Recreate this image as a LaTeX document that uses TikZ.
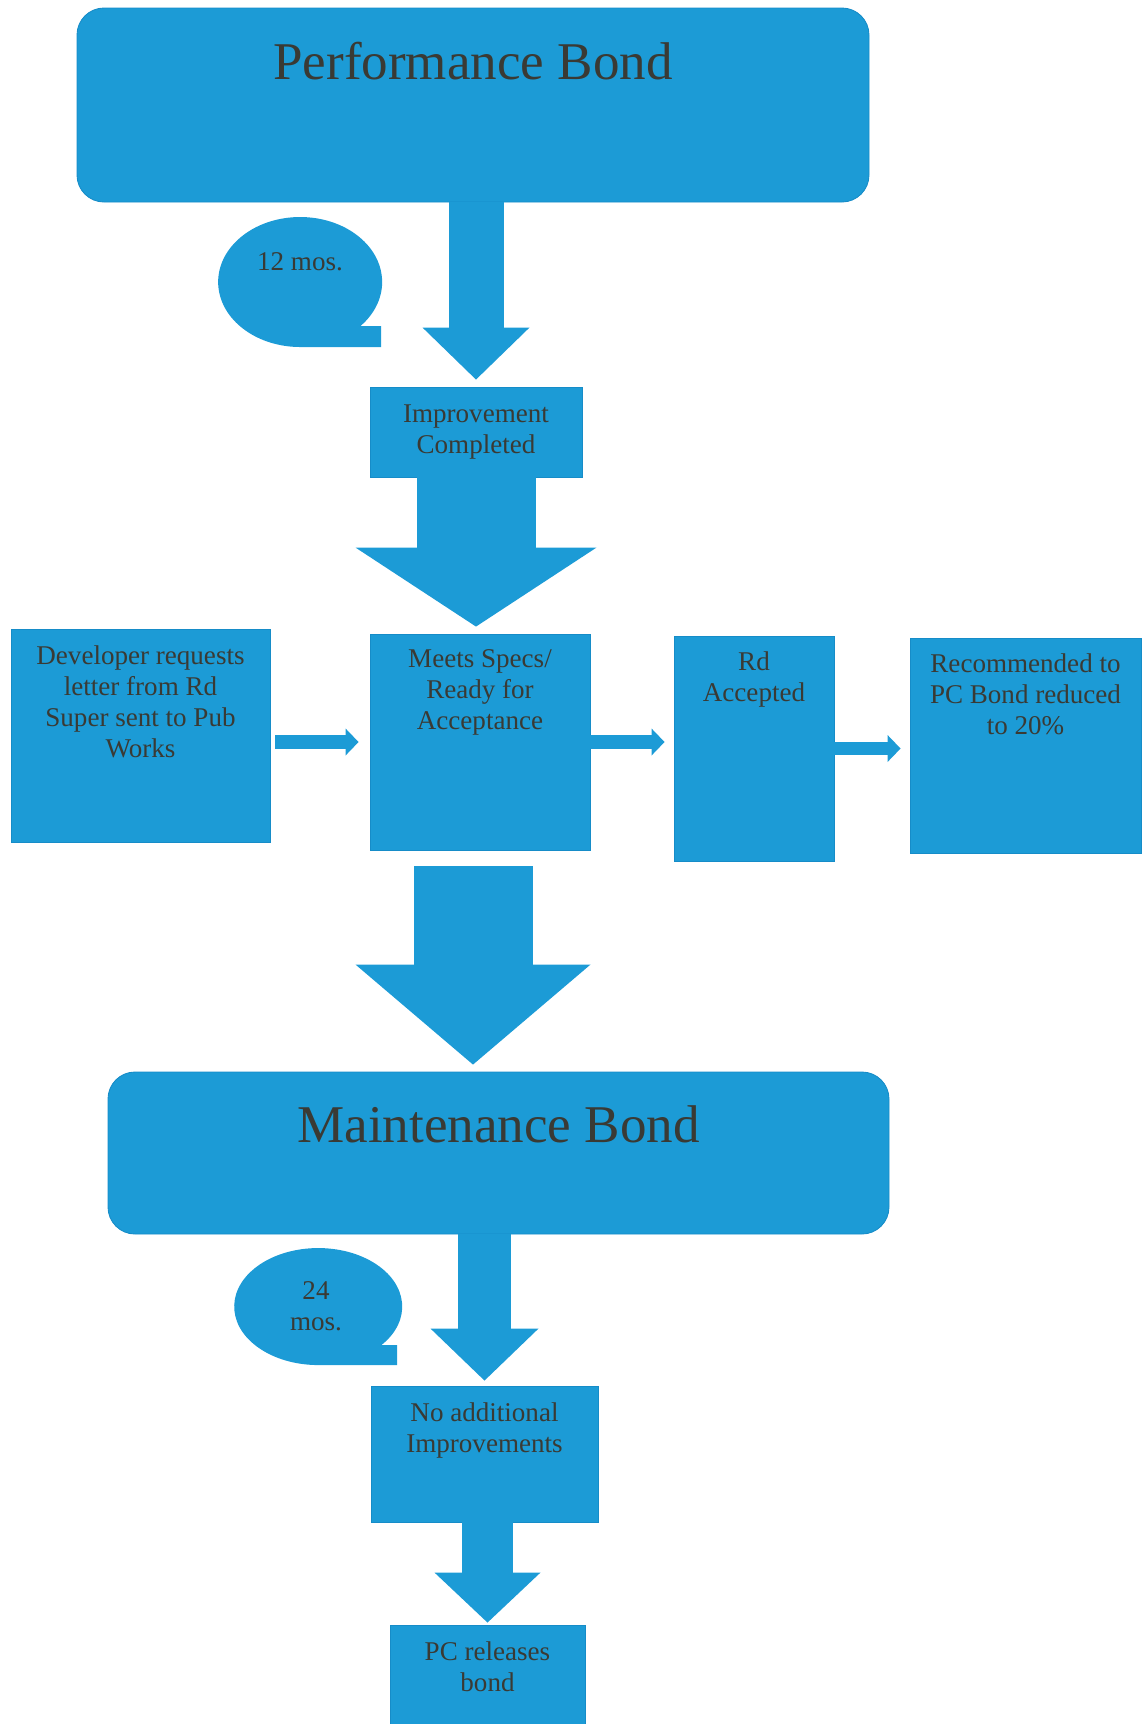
\documentclass[tikz,border=0pt]{standalone}
\usepackage{fontspec}
\setmainfont{Liberation Serif}
\usepackage{tikz}
\usetikzlibrary{arrows.meta,calc,positioning}
\definecolor{bondblue}{RGB}{28,155,214}
\definecolor{bondedge}{RGB}{22,140,200}
\definecolor{bondink}{RGB}{58,58,52}

\begin{document}
\begin{tikzpicture}[every node/.style={text=bondink},
                    stepbox/.style={fill=bondblue,draw=bondedge,line width=0.5pt,inner sep=0pt},
                    bondbox/.style={stepbox,rounded corners=0.54cm},
                    boxtext/.style={font=\fontsize{15.4pt}{17.6pt}\selectfont,align=center,inner sep=0pt},
                    titletext/.style={font=\fontsize{30.2pt}{34pt}\selectfont,inner sep=0pt},
                    blockarrow/.style n args={3}{draw=bondblue,line width=#1,
                        -{Triangle[width=#2,length=#3,line width=0pt]}},
                    sidearrow/.style={blockarrow={0.27cm}{0.54cm}{0.26cm}}]

  \useasboundingbox (0,0) rectangle (22.88,-34.48);
  \clip (0,0) rectangle (22.88,-34.48);

  % --- performance bond, 12 months -----------------------------------------
  \node[bondbox,minimum width=15.84cm,minimum height=3.88cm] (pb) at (9.46,-2.10) {};
  \node[titletext,anchor=base] (pbtitle) at ($(pb.north)+(0,-1.44)$) {Performance Bond};

  \fill[bondblue] (7.21,-6.52) arc[start angle=-42.6,end angle=270,x radius=1.64cm,y radius=1.30cm]
      -- (7.62,-6.94) -- (7.62,-6.52) -- cycle;
  \node[boxtext] (twelve) at (6.00,-5.24) {12 mos.};

  \node[stepbox,minimum width=4.24cm,minimum height=1.80cm] (ic) at (9.52,-8.64) {};
  \node[boxtext,below=0.36cm of ic.north] (ictext) {Improvement\\Completed};

  % --- acceptance row ------------------------------------------------------
  \node[stepbox,minimum width=5.18cm,minimum height=4.26cm] (dev) at (2.81,-14.71) {};
  \node[boxtext,below=0.34cm of dev.north] (devtext)
      {Developer requests\\letter from Rd\\Super sent to Pub\\Works};

  \node[stepbox,minimum width=4.40cm,minimum height=4.32cm] (meets) at (9.60,-14.84) {};
  \node[boxtext,below=0.32cm of meets.north] (meetstext) {Meets Specs/\\Ready for\\Acceptance};

  \node[stepbox,minimum width=3.20cm,minimum height=4.50cm] (rd) at (15.08,-14.97) {};
  \node[boxtext,below=0.32cm of rd.north] (rdtext) {Rd\\Accepted};

  \node[stepbox,minimum width=4.62cm,minimum height=4.30cm] (rec) at (20.51,-14.91) {};
  \node[boxtext,below=0.32cm of rec.north] (rectext) {Recommended to\\PC Bond reduced\\to 20\%};

  % --- maintenance bond, 24 months -----------------------------------------
  \node[bondbox,minimum width=15.62cm,minimum height=3.24cm] (mb) at (9.97,-23.06) {};
  \node[titletext,anchor=base] (mbtitle) at ($(mb.north)+(0,-1.42)$) {Maintenance Bond};

  \fill[bondblue] (7.63,-26.90) arc[start angle=-41.1,end angle=270,x radius=1.68cm,y radius=1.17cm]
      -- (7.94,-27.30) -- (7.94,-26.90) -- cycle;
  \node[boxtext,anchor=north] (twentyfour) at (6.32,-25.62) {24\\mos.};

  \node[stepbox,minimum width=4.54cm,minimum height=2.72cm] (na) at (9.69,-29.08) {};
  \node[boxtext,below=0.34cm of na.north] (natext) {No additional\\Improvements};

  \node[stepbox,minimum width=3.90cm,minimum height=2.30cm] (pc) at (9.75,-33.65) {};
  \node[boxtext,below=0.34cm of pc.north] (pctext) {PC releases\\bond};

  % --- block arrows --------------------------------------------------------
  \draw[blockarrow={1.10cm}{2.14cm}{1.04cm},shorten >=0.14cm] (ic.north |- pb.south) -- (ic.north);
  \draw[blockarrow={2.38cm}{4.82cm}{1.58cm},shorten >=0.14cm] (ic.south) -- (ic.south |- meets.north);
  \draw[blockarrow={2.38cm}{4.70cm}{2.00cm},shorten <=0.32cm,shorten >=0.14cm]
      (pb.south |- meets.south) -- (pb.south |- mb.north);
  \draw[blockarrow={1.06cm}{2.16cm}{1.04cm},shorten >=0.10cm] (na.north |- mb.south) -- (na.north);
  \draw[blockarrow={1.02cm}{2.12cm}{1.00cm},shorten >=0.04cm] (pc.north |- na.south) -- (pc.north);

  \draw[sidearrow,shorten <=0.10cm,shorten >=0.22cm] (dev.east |- meets.west) -- (meets.west);
  \draw[sidearrow,shorten <=-0.10cm,shorten >=0.18cm] (meets.east) -- (meets.east -| rd.west);
  \draw[sidearrow,shorten >=0.18cm] (rd.east) -- (rd.east -| rec.west);
\end{tikzpicture}
\end{document}
